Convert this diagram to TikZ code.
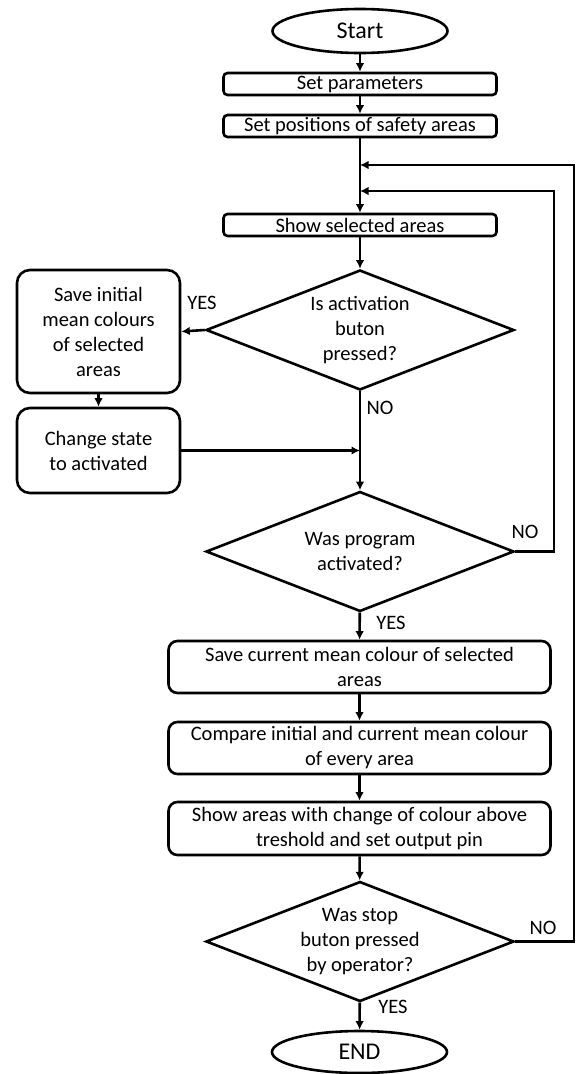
\documentclass[tikz,border=0pt]{standalone}
\usepackage{fontspec}
\setmainfont{Carlito}
\usetikzlibrary{shapes.geometric,arrows.meta}
\begin{document}
\begin{tikzpicture}[x=1pt,y=-1pt,line width=2.6pt,
  every node/.style={font=\fontsize{20.5}{25}\selectfont},
  term/.style={ellipse,draw,minimum width=175pt,minimum height=44pt,inner sep=0pt,font=\fontsize{24}{28}\selectfont},
  proc/.style={draw,rounded corners=4pt,minimum width=273pt,minimum height=22pt,inner sep=0pt},
  wide/.style={draw,rounded corners=9pt,minimum width=382pt,minimum height=52pt,inner sep=0pt,align=center},
  side/.style={draw,rounded corners=13pt,minimum width=163pt,inner sep=0pt,align=center},
  dec/.style={diamond,draw,aspect=2.6,inner sep=0pt,minimum width=308pt,minimum height=120pt},
  dtext/.style={align=center,inner sep=0pt},
  lbl/.style={inner sep=0pt},
  arr/.style={-{Latex[length=8.5pt,width=8.5pt]}}]
\useasboundingbox (0,0) rectangle (576,1074);

\node[term] (start) at (360,31) {Start};
\node[proc] (p1) at (360,84) {Set parameters};
\node[proc] (p2) at (360,126) {Set positions of safety areas};
\node[proc] (p3) at (360,225) {Show selected areas};
\node[dec] (d1) at (360,330) {};
\node[dtext] (d1t) at (d1.center) {Is activation\\buton\\pressed?};
\node[side,minimum height=123pt] (b1) at (98.5,331.5) {Save initial\\mean colours\\of selected\\areas};
\node[side,minimum height=85pt] (b2) at (98.5,450.5) {Change state\\to activated};
\node[dec] (d2) at (360,551.5) {};
\node[dtext] (d2t) at (d2.center) {Was program\\activated?};
\node[wide] (b3) at (359.5,667) {Save current mean colour of selected\\areas};
\node[wide] (b4) at (359.5,748) {Compare initial and current mean colour\\of every area};
\node[wide,minimum height=53pt] (b5) at (359.5,828.5) {Show areas with change of colour above\\\hspace*{20pt}treshold and set output pin};
\node[dec] (d3) at (360,941.5) {};
\node[dtext] (d3t) at (d3.center) {Was stop\\buton pressed\\by operator?};
\node[term,minimum height=42pt] (end) at (359.5,1052) {END};

\coordinate (j1) at (360,165);
\coordinate (j2) at (360,191);
\coordinate (r1) at (574,165);
\coordinate (r2) at (554,191);

\draw[arr] (start) -- (p1);
\draw[arr] (p1) -- (p2);
\draw[arr] (p2) -- (p3);
\draw[arr] (p3) -- (d1);
\draw[arr] (d1.west) -- (b1.east);
\draw[arr] (b1) -- (b2);
\draw[arr] (b2.east) -- (b2.east -| d1.south);
\draw[arr] (d1) -- (d2);
\draw[arr] (d2.east) -| (r2) -- (j2);
\draw[arr] (d2) -- (b3);
\draw[arr] (b3) -- (b4);
\draw[arr] (b4) -- (b5);
\draw[arr] (b5) -- (d3);
\draw[arr] (d3.east) -| (r1) -- (j1);
\draw[arr] (d3) -- (end);

\node[lbl] (yes1) at (202,303) {YES};
\node[lbl] (no1) at (380,408) {NO};
\node[lbl] (no2) at (525,532) {NO};
\node[lbl] (yes2) at (391,623) {YES};
\node[lbl] (no3) at (543,928) {NO};
\node[lbl] (yes3) at (393,1007) {YES};
\end{tikzpicture}
\end{document}
